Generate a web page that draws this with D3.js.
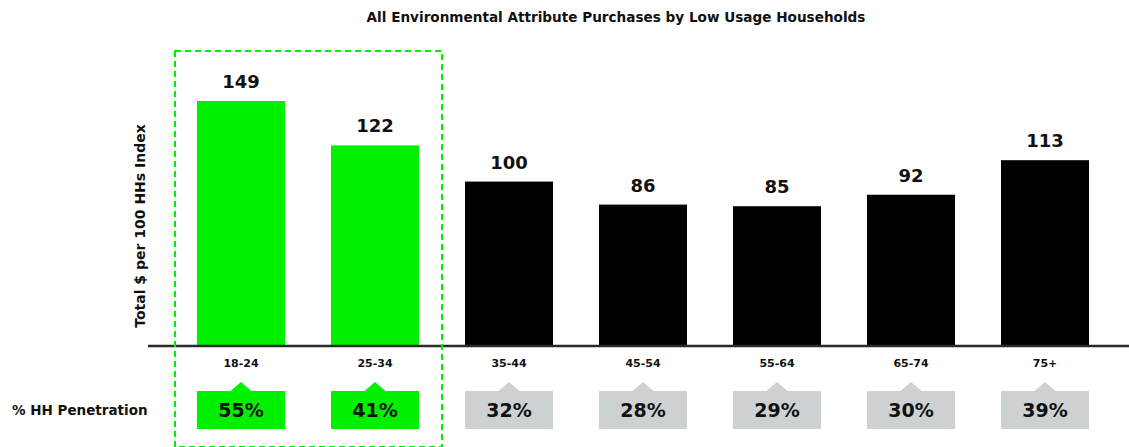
<!DOCTYPE html>
<html>
<head>
<meta charset="utf-8">
<script src="https://cdn.jsdelivr.net/npm/d3@7"></script>
<style>
  html, body { margin: 0; padding: 0; background: #fff; }
  svg { display: block; }
  text { font-family: "DejaVu Sans", sans-serif; font-weight: bold; fill: #111; }
</style>
</head>
<body>
<svg id="chart" width="1129" height="447"></svg>
<script>
// Age groups and their index values
const categories = ["18-24", "25-34", "35-44", "45-54", "55-64", "65-74", "75+"];
const indexValues = [149, 122, 100, 86, 85, 92, 113];
const penetration = [55, 41, 32, 28, 29, 30, 39];
const highlighted = ["18-24", "25-34"];

const title = "All Environmental Attribute Purchases by Low Usage Households";
const yTitle = "Total $ per 100 HHs Index";
const rowTitle = "% HH Penetration";

const GREEN = "#00f000";
const GREY = "#cdd1d1";

const svg = d3.select("#chart");
const baseY = 346;

const x = d3.scaleBand()
  .domain(categories)
  .range([174, 1112])
  .paddingInner(0.343)
  .paddingOuter(0.1715);

const y = d3.scaleLinear()
  .domain([0, d3.max(indexValues)])
  .range([baseY, 101]);

const isHi = c => highlighted.includes(c);
const data = categories.map((c, i) => ({ cat: c, value: indexValues[i], pct: penetration[i] }));

// Title
svg.append("text")
  .attr("x", 616).attr("y", 22)
  .attr("text-anchor", "middle")
  .style("font-size", "13.6px")
  .text(title);

// Y axis title
svg.append("text")
  .attr("transform", "translate(145,226) rotate(-90)")
  .attr("text-anchor", "middle")
  .style("font-size", "14px")
  .text(yTitle);

// Bars
svg.append("g").selectAll("rect")
  .data(data)
  .join("rect")
  .attr("x", d => x(d.cat))
  .attr("y", d => y(d.value))
  .attr("width", x.bandwidth())
  .attr("height", d => baseY - y(d.value))
  .attr("fill", d => isHi(d.cat) ? GREEN : "#000");

// Value labels
svg.append("g").selectAll("text")
  .data(data)
  .join("text")
  .attr("x", d => x(d.cat) + x.bandwidth() / 2)
  .attr("y", d => y(d.value) - 13)
  .attr("text-anchor", "middle")
  .style("font-size", "18px")
  .text(d => d.value);

// Baseline
svg.append("line")
  .attr("x1", 148).attr("x2", 1129)
  .attr("y1", baseY).attr("y2", baseY)
  .attr("stroke", "#2a2a2a")
  .attr("stroke-width", 2.3);

// Category axis
const axis = svg.append("g")
  .attr("transform", `translate(0,${baseY})`)
  .call(d3.axisBottom(x).tickSize(0).tickPadding(13.3));
axis.select(".domain").remove();
axis.selectAll("text")
  .attr("fill", "#111")
  .style("font-family", "'DejaVu Sans', sans-serif")
  .style("font-weight", "bold")
  .style("font-size", "11px");

// Penetration callouts
const callTop = 391, callBottom = 429, notchH = 9, notchW = 10.5;
const calls = svg.append("g").selectAll("g")
  .data(data)
  .join("g");

calls.append("path")
  .attr("d", d => {
    const x0 = x(d.cat), x1 = x0 + x.bandwidth(), cx = x0 + x.bandwidth() / 2;
    return `M${x0},${callTop}H${cx - notchW}L${cx},${callTop - notchH}L${cx + notchW},${callTop}H${x1}V${callBottom}H${x0}Z`;
  })
  .attr("fill", d => isHi(d.cat) ? GREEN : GREY);

calls.append("text")
  .attr("x", d => x(d.cat) + x.bandwidth() / 2)
  .attr("y", 417.3)
  .attr("text-anchor", "middle")
  .style("font-size", "19px")
  .text(d => d.pct + "%");

svg.append("text")
  .attr("x", 12).attr("y", 415)
  .style("font-size", "13.5px")
  .text(rowTitle);

// Dashed frame around the highlighted age groups
const gap = (x.step() - x.bandwidth()) / 2;
const hiFirst = x(highlighted[0]) - gap;
const hiLast = x(highlighted[highlighted.length - 1]) + x.bandwidth() + gap;
svg.append("rect")
  .attr("x", hiFirst + 1)
  .attr("y", 51)
  .attr("width", hiLast - hiFirst - 1)
  .attr("height", 396)
  .attr("fill", "none")
  .attr("stroke", GREEN)
  .attr("stroke-width", 2)
  .attr("stroke-dasharray", "6,4");
</script>
</body>
</html>
